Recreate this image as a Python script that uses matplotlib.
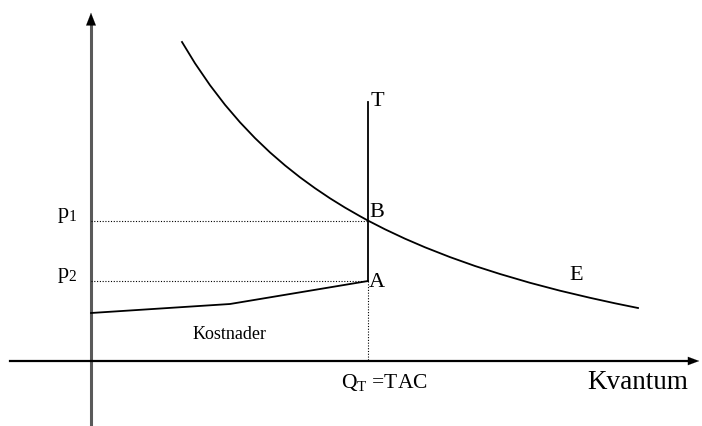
import matplotlib
matplotlib.use('Agg')
import matplotlib.pyplot as plt

# pixel-style coordinates (y grows downward)
curve_x = [182, 195, 210, 225, 240, 255, 270, 285, 300, 315, 330, 345, 360, 368,
           385, 405, 425, 450, 475, 500, 530, 560, 590, 615, 638]
curve_y = [43.0, 64.3, 86.2, 105.8, 123.3, 139.1, 153.4, 166.4, 178.3, 189.2, 199.3,
           208.6, 217.2, 221.6, 230.3, 239.7, 248.3, 258.1, 267.0, 275.0, 283.8,
           291.7, 298.8, 304.3, 309.0]

cost_x = [91, 230, 368]
cost_y = [314, 305, 282]

q_t = 368
t_top = 103
p1 = 222
p2 = 282
y_axis_x = 91
x_axis_y = 362

plt.rcParams['font.family'] = ['Liberation Serif', 'DejaVu Serif']
plt.rcParams['mathtext.fontset'] = 'custom'
plt.rcParams['mathtext.rm'] = 'Liberation Serif'
plt.rcParams['mathtext.it'] = 'Liberation Serif:italic'
plt.rcParams['mathtext.bf'] = 'Liberation Serif:bold'

fig = plt.figure(figsize=(7.02, 4.27), dpi=100)
ax = fig.add_axes([0, 0, 1, 1])
ax.set_xlim(0, 702)
ax.set_ylim(427, 0)
ax.axis('off')

# axes with arrows
ax.plot([y_axis_x, y_axis_x], [427, 22], color='#5a5a5a', lw=2.2)
ax.annotate('', xy=(y_axis_x, 11), xytext=(y_axis_x, 30),
            arrowprops=dict(arrowstyle='-|>,head_width=0.35,head_length=0.9',
                            color='black', lw=0.1))
ax.plot([10, 690], [x_axis_y, x_axis_y], color='black', lw=1.6)
ax.annotate('', xy=(702, x_axis_y), xytext=(680, x_axis_y),
            arrowprops=dict(arrowstyle='-|>,head_width=0.3,head_length=0.8',
                            color='black', lw=0.1))

# demand curve
ax.plot(curve_x, curve_y, color='black', lw=1.3)

# cost curve
ax.plot(cost_x, cost_y, color='black', lw=1.3)

# T line
ax.plot([q_t, q_t], [t_top, p2], color='black', lw=1.3)
ax.plot([q_t, q_t], [p2, x_axis_y], color='black', lw=0.8, ls=(0, (1, 1.5)))

# price lines
ax.plot([y_axis_x, q_t], [p1, p1], color='black', lw=0.8, ls=(0, (1, 1.5)))
ax.plot([y_axis_x, q_t], [p2, p2], color='black', lw=0.8, ls=(0, (1, 1.5)))

# labels
ax.text(371, 101, 'T', fontsize=16, va='center', ha='left')
ax.text(369, 213, 'B', fontsize=16, va='center', ha='left')
ax.text(369, 283, 'A', fontsize=16, va='center', ha='left')
ax.text(569, 276, 'E', fontsize=16, va='center', ha='left')
ax.text(57, 216, r'$\mathrm{p}_{1}$', fontsize=16, va='center', ha='left')
ax.text(57, 276, r'$\mathrm{p}_{2}$', fontsize=16, va='center', ha='left')
ax.text(193, 335, 'Kostnader', fontsize=13, va='center', ha='left')
ax.text(341, 383, r'$\mathrm{Q}_{\mathrm{T}}$ =TAC', fontsize=15.5, va='center', ha='left')
ax.text(587, 383, 'Kvantum', fontsize=19.5, va='center', ha='left')

fig.savefig('out.png', dpi=100)
